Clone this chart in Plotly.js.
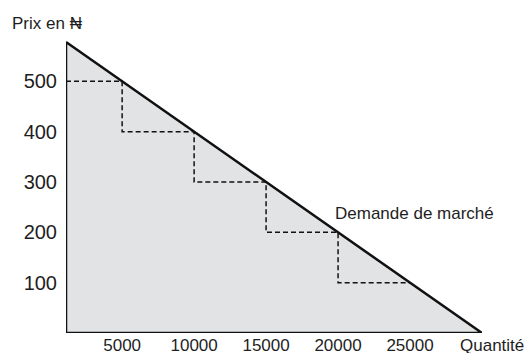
<!DOCTYPE html>
<html>
<head>
<meta charset="utf-8">
<script src="https://cdn.plot.ly/plotly-3.0.1.min.js"></script>
<style>html,body{margin:0;padding:0;background:#fff;}#chart{width:524px;height:353px;}</style>
</head>
<body>
<div id="chart"></div>
<script>
// Demand triangle (quantity, price)
const triQ = [1100, 30000, 1100, 1100];
const triP = [578, 0, 0, 578];
// Staircase (dashed) steps
const stepQ = [1100, 5000, 5000, 10000, 10000, 15000, 15000, 20000, 20000, 25000];
const stepP = [500, 500, 400, 400, 300, 300, 200, 200, 100, 100];
// Tick labels
const xTicks = [5000, 10000, 15000, 20000, 25000];
const yTicks = [100, 200, 300, 400, 500];
const curveLabel = "Demande de marché";
const yLabel = "Prix en ₦";
const xLabel = "Quantité";

const FONT = "Liberation Sans, Arial, Helvetica, sans-serif";
const TXT = "#1e1e1e";

const traces = [
  {
    x: triQ, y: triP, type: "scatter", mode: "lines",
    fill: "toself", fillcolor: "#e2e3e5",
    line: {color: "#111111", width: 2.5},
    hoverinfo: "skip", showlegend: false
  },
  {
    x: stepQ, y: stepP, type: "scatter", mode: "lines",
    line: {color: "#111111", width: 1.5, dash: "5px,3px"},
    hoverinfo: "skip", showlegend: false
  }
];

const layout = {
  width: 524, height: 353,
  margin: {l: 66, r: 42, t: 31, b: 20, pad: 0},
  paper_bgcolor: "#ffffff", plot_bgcolor: "rgba(0,0,0,0)",
  showlegend: false,
  font: {family: FONT, size: 17, color: TXT},
  xaxis: {
    range: [1100, 30000], showgrid: false, zeroline: false, showline: false,
    tickmode: "array", tickvals: xTicks, ticktext: xTicks.map(String),
    ticks: "", ticklabelstandoff: 0,
    tickfont: {family: FONT, size: 17, color: TXT}
  },
  yaxis: {
    range: [0, 600], showgrid: false, zeroline: false, showline: false,
    tickmode: "array", tickvals: yTicks, ticktext: yTicks.map(String),
    ticks: "", ticklabelstandoff: 8,
    tickfont: {family: FONT, size: 20, color: TXT}
  },
  annotations: [
    {text: curveLabel, x: 19650, y: 238, xref: "x", yref: "y",
     xanchor: "left", yanchor: "middle", showarrow: false,
     font: {family: FONT, size: 17, color: TXT}},
    {text: yLabel, x: -0.135, y: 1.026, xref: "paper", yref: "paper",
     xanchor: "left", yanchor: "middle", showarrow: false,
     font: {family: FONT, size: 17, color: TXT}},
    {text: xLabel, x: 0.942, y: -0.04, xref: "paper", yref: "paper",
     xanchor: "left", yanchor: "middle", showarrow: false,
     font: {family: FONT, size: 17, color: TXT}}
  ]
};

Plotly.newPlot("chart", traces, layout, {displayModeBar: false, staticPlot: true});
</script>
</body>
</html>
